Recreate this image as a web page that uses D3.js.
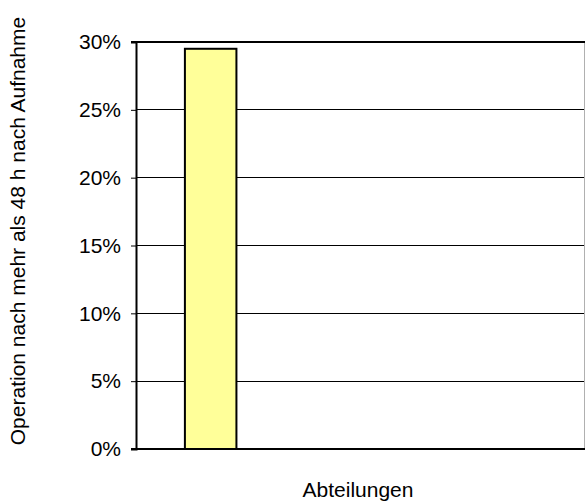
<!DOCTYPE html>
<html>
<head>
<meta charset="utf-8">
<script src="https://cdn.jsdelivr.net/npm/d3@7"></script>
<style>
  html, body { margin: 0; padding: 0; background: #fff; }
  svg { display: block; font-family: "Liberation Sans", Arial, sans-serif; }
</style>
</head>
<body>
<svg id="chart" width="585" height="501"></svg>
<script>
// Departments (three slots, only the first carries a value) and share in percent
const departments = ["d1", "d2", "d3"];
const shares = [29.5, null, null];
const yTicks = [0, 5, 10, 15, 20, 25, 30];
const yTitle = "Operation nach mehr als 48 h nach Aufnahme";
const xTitle = "Abteilungen";

const svg = d3.select("#chart");
const plot = { left: 136, right: 584, top: 42, bottom: 449 };
const fontSize = 21;

const x = d3.scaleBand()
  .domain(departments)
  .range([plot.left, plot.right])
  .paddingInner(0.655)
  .paddingOuter(0.3275);

const y = d3.scaleLinear().domain([0, 30]).range([plot.bottom, plot.top]);

// horizontal gridlines
svg.append("g")
  .selectAll("line")
  .data(yTicks.filter(t => t > 0 && t < 30))
  .join("line")
  .attr("x1", plot.left).attr("x2", plot.right)
  .attr("y1", d => y(d)).attr("y2", d => y(d))
  .attr("stroke", "#000").attr("stroke-width", 1)
  .attr("shape-rendering", "crispEdges");

// right border
svg.append("line")
  .attr("x1", plot.right + 0.5).attr("x2", plot.right + 0.5)
  .attr("y1", plot.top).attr("y2", plot.bottom)
  .attr("stroke", "#b0b0b0").attr("stroke-width", 1);

// top border
svg.append("line")
  .attr("x1", plot.left - 5).attr("x2", plot.right + 1)
  .attr("y1", plot.top).attr("y2", plot.top)
  .attr("stroke", "#000").attr("stroke-width", 2);

// bars
svg.append("g")
  .selectAll("rect")
  .data(departments.map((d, i) => ({ d, v: shares[i] })).filter(o => o.v != null))
  .join("rect")
  .attr("x", o => x(o.d))
  .attr("width", x.bandwidth())
  .attr("y", o => y(o.v))
  .attr("height", o => y(0) - y(o.v))
  .attr("fill", "#ffff99")
  .attr("stroke", "#000")
  .attr("stroke-width", 2);

// y axis
const yAxis = d3.axisLeft(y)
  .tickValues(yTicks)
  .tickFormat(d => d + "%")
  .tickSize(5)
  .tickPadding(10);
const gy = svg.append("g")
  .attr("transform", `translate(${plot.left},0)`)
  .call(yAxis);
gy.select(".domain").attr("stroke", "#000").attr("stroke-width", 2);
gy.selectAll(".tick line").attr("stroke", "#000").attr("stroke-width", 1);
gy.selectAll(".tick text")
  .attr("font-size", fontSize)
  .attr("font-family", "Liberation Sans, Arial, sans-serif")
  .attr("fill", "#000");

// x axis baseline
svg.append("line")
  .attr("x1", plot.left - 5).attr("x2", plot.right + 1)
  .attr("y1", plot.bottom).attr("y2", plot.bottom)
  .attr("stroke", "#000").attr("stroke-width", 2);

// axis titles
svg.append("text")
  .attr("x", 358)
  .attr("y", 497)
  .attr("text-anchor", "middle")
  .attr("font-size", fontSize)
  .attr("fill", "#000")
  .text(xTitle);

svg.append("text")
  .attr("transform", `translate(25,231) rotate(-90)`)
  .attr("text-anchor", "middle")
  .attr("font-size", fontSize)
  .attr("fill", "#000")
  .text(yTitle);
</script>
</body>
</html>
